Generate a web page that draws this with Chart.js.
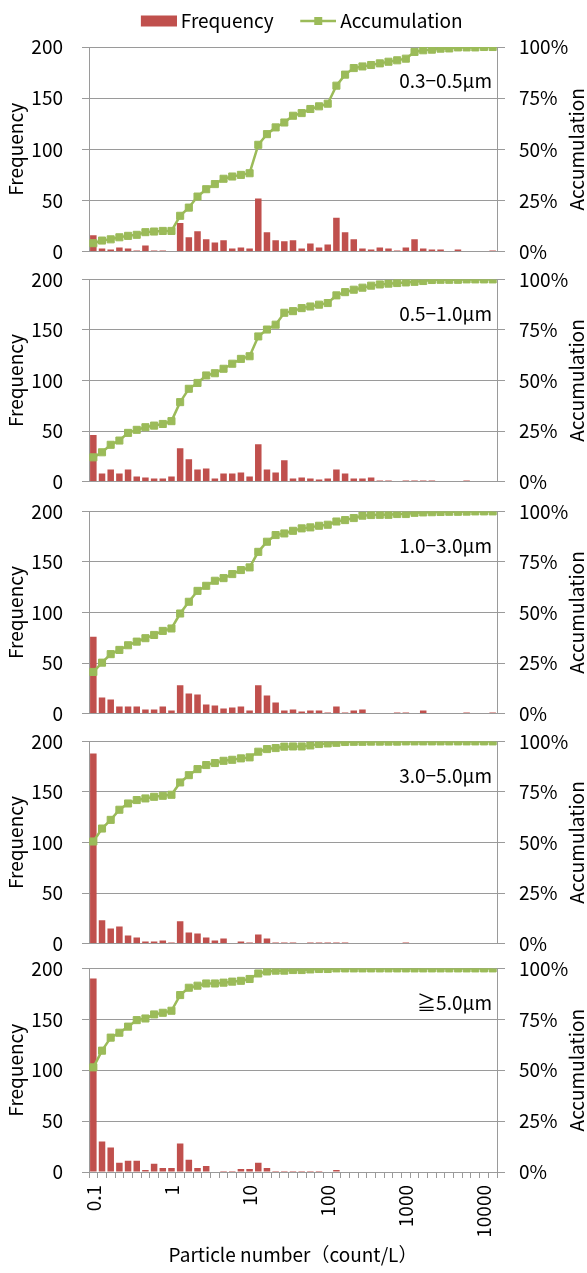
<!DOCTYPE html>
<html>
<head>
<meta charset="utf-8">
<script src="https://cdn.jsdelivr.net/npm/chart.js@4.4.1/dist/chart.umd.min.js"></script>
<style>
  html, body { margin: 0; padding: 0; background: #fff; }
  #wrap { position: relative; width: 587px; height: 1273px; overflow: hidden; }
  #wrap canvas { position: absolute; left: 0; }
</style>
</head>
<body>
<div id="wrap"></div>
<script>
// bins: 0.1 .. 0.9, 1 .. 9, 10 .. 90, 100 .. 900, 1000 .. 9000, 10000, 20000
const categories = [
  '0.1','0.2','0.3','0.4','0.5','0.6','0.7','0.8','0.9',
  '1','2','3','4','5','6','7','8','9',
  '10','20','30','40','50','60','70','80','90',
  '100','200','300','400','500','600','700','800','900',
  '1000','2000','3000','4000','5000','6000','7000','8000','9000',
  '10000','20000'
];
const tickLabels = ['0.1', '1', '10', '100', '1000', '10000'];
const sizeLabels = ['0.3−0.5μm', '0.5−1.0μm', '1.0−3.0μm', '3.0−5.0μm', '≧5.0μm'];

const freq03 = [16,3,2,4,3,1,6,1,1,0, 28,14,20,12,9,11,3,4,3, 52,19,11,10,11,3,8,4,7, 33,19,12,3,2,4,3,1,4, 12,3,2,2,0,2,0,0,0,1];
const accum03 = [4.1,5.4,6.0,7.0,7.7,8.2,9.5,9.8,10.1,10.1, 17.5,21.5,26.9,30.5,33.0,35.6,36.7,37.5,38.3,
  52.2,57.4,60.7,63.1,66.4,67.7,69.7,71.0,72.3, 81.1,86.5,89.7,90.5,91.2,92.0,92.8,93.5,94.3,
  97.6,98.4,98.7,99.2,99.3,99.8,99.8,99.8,100,100];

const freq05 = [46,8,12,8,12,5,4,3,3,5, 33,22,12,13,3,8,8,9,5, 37,12,9,21,3,4,3,2,3, 12,8,3,3,4,1,1,0,1, 1,1,1,0,0,0,1,0,0,0];
const accum05 = [12.0,14.5,18.2,20.3,24.1,25.6,26.9,27.7,28.5,29.9, 39.3,45.9,48.8,52.5,53.6,55.8,58.3,60.7,62.0,
  71.8,75.2,77.6,83.5,84.3,85.8,86.6,87.5,88.3, 92.1,93.7,94.9,95.9,96.9,97.5,97.9,98.2,98.5,
  98.8,99.2,99.7,99.8,99.8,99.8,100,100,100,100];

const freq10 = [76,16,14,7,7,7,4,4,7,3, 28,20,19,9,8,5,6,7,3, 28,18,11,3,4,2,3,3,1, 7,1,3,4,0,0,0,1,1, 0,3,0,0,0,0,1,0,0,1];
const accum10 = [20.6,25.2,29.4,31.5,33.8,35.6,37.3,38.9,40.9,42.1, 49.5,55.3,60.7,63.2,65.7,67.0,69.0,71.0,72.3,
  80.0,85.0,88.3,89.1,90.4,91.6,92.1,92.9,93.4, 95.0,95.7,96.7,97.9,98.2,98.3,98.3,98.7,98.7,
  99.3,99.5,99.6,99.7,99.8,99.8,99.9,100,100,100];

const freq30 = [188,23,15,17,8,6,2,2,3,1, 22,11,10,6,3,5,0,2,1, 9,5,1,1,1,0,1,1,1, 1,1,0,0,0,0,0,0,1, 0,0,0,0,0,0,0,0,0,0];
const accum30 = [50.5,56.9,61.2,66.2,69.3,71.0,71.8,72.6,73.1,73.6, 79.7,83.3,86.3,88.3,89.3,90.4,90.9,91.6,92.1,
  94.9,96.2,96.7,97.4,97.5,97.5,98.0,98.7,99.0, 99.3,99.7,99.8,99.8,99.9,99.9,99.9,99.9,100,
  100,100,100,100,100,100,100,100,100,100];

const freq50 = [190,30,24,9,11,11,2,8,4,4, 28,12,4,6,0,1,1,3,3, 9,4,1,1,1,1,1,1,0, 2,0,0,0,0,0,0,0,0, 0,0,0,0,0,0,0,0,0,0];
const accum50 = [51.4,59.6,66.0,68.4,71.4,74.6,75.4,77.4,78.2,79.2, 86.9,90.5,91.5,92.6,92.6,93.0,93.5,93.9,94.8,
  97.5,98.5,98.9,98.9,99.2,99.2,99.5,99.7,99.7, 100,100,100,100,100,100,100,100,100,
  100,100,100,100,100,100,100,100,100,100];

const freqs = [freq03, freq05, freq10, freq30, freq50];
const accums = [accum03, accum05, accum10, accum30, accum50];

// page layout (px): where each plot area sits
const plotTops = [47, 279, 511, 741, 968];
const plotBottoms = [252, 481, 713, 943, 1172];
const PAGE_H = 1273;
// chart.js keeps this much room above/below the plot for the y labels
// (half a 19px line + tick padding 19)
const EDGE = 19 * 1.2 / 2 + 19;

const RED = '#C0504D';
const GREEN = '#9BBB59';
const GRID = '#9A9A9A';
const TXT = '#000';
const FONT = '"Noto Sans CJK JP", "Noto Sans", sans-serif';

Chart.defaults.font.family = FONT;
Chart.defaults.font.size = 19;
Chart.defaults.color = TXT;

function legendIcon(kind) {
  const c = document.createElement('canvas');
  c.width = 58; c.height = 14;
  const g = c.getContext('2d');
  if (kind === 'bar') {
    g.fillStyle = RED;
    g.fillRect(22, 1.5, 36, 11);
  } else {
    g.strokeStyle = GREEN;
    g.lineWidth = 2.5;
    g.beginPath(); g.moveTo(22, 7); g.lineTo(58, 7); g.stroke();
    g.fillStyle = GREEN;
    g.fillRect(36, 3, 8, 8);
  }
  return c;
}
const barIcon = legendIcon('bar');
const lineIcon = legendIcon('line');

// a bit more room under the legend
const legendGap = 6.5;
const legendSpace = {
  id: 'legendSpace',
  beforeLayout(chart) {
    const lg = chart.legend;
    if (!lg || lg._spaced) return;
    const fit = lg.fit;
    lg.fit = function () { fit.call(this); this.height += legendGap; };
    lg._spaced = true;
  }
};

// size label in the corner + right axis title reading upwards
const panelText = {
  id: 'panelText',
  afterDraw(chart, args, opts) {
    const { ctx, chartArea } = chart;
    ctx.save();
    ctx.font = '19px ' + FONT;
    ctx.fillStyle = TXT;
    ctx.textAlign = 'right';
    ctx.textBaseline = 'middle';
    ctx.fillText(opts.label, chartArea.right - 5, chartArea.top + 34);
    ctx.translate(577, (chartArea.top + chartArea.bottom) / 2);
    ctx.rotate(-Math.PI / 2);
    ctx.textAlign = 'center';
    ctx.fillText('Accumulation', 0, 0);
    ctx.restore();
  }
};

const wrap = document.getElementById('wrap');

function buildPanel(i) {
  const first = i === 0, last = i === 4;
  const padTop = first ? 1.5 : 0;
  const xAxisH = last ? PAGE_H - plotBottoms[i] : 0;
  const top = first ? 0 : plotTops[i] - EDGE;
  const bottom = last ? PAGE_H : plotBottoms[i] + EDGE;

  const canvas = document.createElement('canvas');
  canvas.width = 587;
  canvas.height = Math.round(bottom - top);
  canvas.style.top = top + 'px';
  wrap.appendChild(canvas);

  new Chart(canvas, {
    type: 'bar',
    data: {
      labels: categories,
      datasets: [{
        type: 'bar',
        label: 'Frequency',
        data: freqs[i],
        backgroundColor: RED,
        borderWidth: 0,
        barPercentage: 0.75,
        categoryPercentage: 1,
        yAxisID: 'y',
        order: 1
      }, {
        type: 'line',
        label: 'Accumulation',
        data: accums[i],
        borderColor: GREEN,
        backgroundColor: GREEN,
        borderWidth: 2.5,
        pointStyle: 'rect',
        pointRadius: 5,
        pointBorderWidth: 1,
        pointBorderColor: GREEN,
        pointBackgroundColor: GREEN,
        tension: 0,
        yAxisID: 'y2',
        order: 0
      }]
    },
    options: {
      responsive: false,
      animation: false,
      events: [],
      layout: { padding: { top: padTop, bottom: 0, left: 0, right: 0 } },
      scales: {
        x: {
          offset: true,
          grid: { drawOnChartArea: false, drawTicks: last, offset: true, tickLength: 6, color: GRID },
          border: { color: GRID },
          ticks: {
            display: last,
            autoSkip: false,
            minRotation: 90,
            maxRotation: 90,
            padding: 7,
            callback(v) {
              const l = this.getLabelForValue(v);
              return tickLabels.includes(l) ? l : '';
            }
          },
          title: {
            display: last,
            text: 'Particle number（count/L）',
            padding: { top: 0, bottom: 6.5 }
          },
          afterFit(s) { s.height = xAxisH; }
        },
        y: {
          position: 'left',
          min: 0,
          max: 200,
          ticks: { stepSize: 50, padding: 19 },
          grid: { color: GRID, tickLength: 7 },
          border: { color: GRID },
          title: { display: true, text: 'Frequency', padding: { top: 4, bottom: 0 } },
          afterFit(s) { s.width = 89; }
        },
        y2: {
          position: 'right',
          min: 0,
          max: 100,
          ticks: { stepSize: 25, padding: 14, callback: v => v + '%' },
          grid: { drawOnChartArea: false, color: GRID, tickLength: 8 },
          border: { color: GRID },
          afterFit(s) { s.width = 90; }
        }
      },
      plugins: {
        tooltip: { enabled: false },
        legend: {
          display: first,
          position: 'top',
          labels: {
            usePointStyle: true,
            pointStyleWidth: 47,
            padding: 10,
            color: TXT,
            generateLabels: () => [
              { text: 'Frequency', pointStyle: barIcon, fillStyle: RED, strokeStyle: RED, lineWidth: 0, hidden: false, datasetIndex: 0 },
              { text: 'Accumulation', pointStyle: lineIcon, fillStyle: GREEN, strokeStyle: GREEN, lineWidth: 0, hidden: false, datasetIndex: 1 }
            ]
          }
        },
        panelText: { label: sizeLabels[i] }
      }
    },
    plugins: first ? [legendSpace, panelText] : [panelText]
  });
}

for (let i = 0; i < 5; i++) buildPanel(i);
</script>
</body>
</html>
